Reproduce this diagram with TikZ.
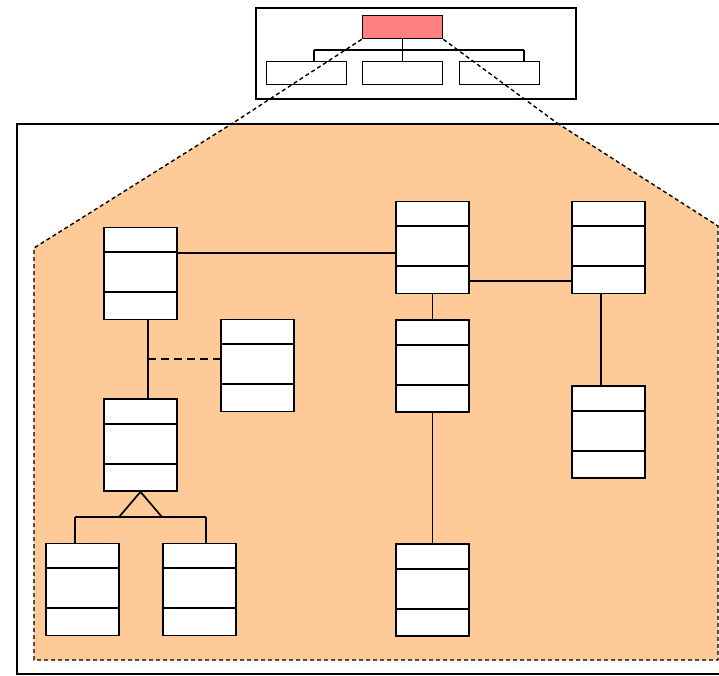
\documentclass[tikz,border=0pt]{standalone}
\usetikzlibrary{calc}
\definecolor{pkgfill}{RGB}{254,203,152}
\definecolor{rootfill}{RGB}{255,128,128}
\tikzset{
  cls/.style={draw, fill=white, line width=1.7pt, minimum width=73pt, minimum height=92pt, inner sep=0pt},
  tbox/.style={draw, line width=1.7pt, minimum width=80pt, minimum height=23pt, inner sep=0pt},
  link/.style={line width=1.7pt},
  zoomline/.style={line width=1.4pt, dash pattern=on 4pt off 3pt},
}
% two compartment dividers inside a class box
\newcommand\classdivs[1]{%
  \draw[link] ($(#1.north west)+(0,25.5)$) -- ($(#1.north east)+(0,25.5)$);
  \draw[link] ($(#1.north west)+(0,65.5)$) -- ($(#1.north east)+(0,65.5)$);
}
\begin{document}
\begin{tikzpicture}[x=1pt,y=-1pt]
\useasboundingbox (0,0) rectangle (719,675);

% package area
\fill[pkgfill] (233,123) -- (557,123) -- (718,226) -- (718,660) -- (34,660) -- (34,248) -- cycle;
\draw[zoomline] (557,123) -- (718,226) -- (718,660) -- (34,660) -- (34,248) -- (233,123);
\node[draw, line width=1.6pt, minimum width=730pt, minimum height=550pt, inner sep=0pt, anchor=north west] (frame) at (16,123) {};

% overview tree
\node[draw, line width=1.7pt, minimum width=320pt, minimum height=91pt, inner sep=0pt] (over) at (416,53.5) {};
\node[tbox, fill=rootfill] (root) at (402.5,27) {};
\node[tbox, fill=white] (kl) at (306.5,73) {};
\node[tbox, fill=white] (km) at (402.5,73) {};
\node[tbox, fill=white] (kr) at (499.5,73) {};
\coordinate (busL) at (314,50);
\coordinate (busR) at (524,50);
\draw[link] (root.south) -- (km.north);
\draw[link] (busL) -- (busR);
\draw[link] (busL) -- (busL |- kl.north);
\draw[link] (busR) -- (busR |- kr.north);

% zoom guides
\coordinate (pkgL) at (233,123);
\coordinate (pkgR) at (557,123);
\draw[zoomline] (root.south west) -- (pkgL);
\draw[zoomline] (root.south east) -- (pkgR);

% classes
\node[cls] (A) at (140.5,273.5) {};
\node[cls] (B) at (257.5,365.5) {};
\node[cls] (C) at (140.5,445) {};
\node[cls] (D) at (432.5,247.5) {};
\node[cls] (E) at (608.5,247.5) {};
\node[cls] (F) at (432.5,366) {};
\node[cls] (G) at (608.5,432) {};
\node[cls] (H) at (432.5,590) {};
\node[cls] (I) at (82.5,589.5) {};
\node[cls] (J) at (199.5,589.5) {};
\foreach \n in {A,B,C,D,E,F,G,H,I,J} {\classdivs{\n}}

% associations
\coordinate (ad) at (300,253);
\draw[link] (A.east |- ad) -- (D.west |- ad);
\coordinate (de) at (520,281);
\draw[link] (D.east |- de) -- (E.west |- de);
\coordinate (eg) at (601,300);
\draw[link] (E.south -| eg) -- (G.north -| eg);
\draw[link] (D.south) -- (F.north);
\draw[link] (F.south) -- (H.north);
\coordinate (ac) at (148,350);
\draw[line width=2.8pt] (A.south -| ac) -- (C.north -| ac);
\coordinate (ab) at (148,359);
\draw[link, dash pattern=on 8pt off 5pt] (ab) -- (B.west |- ab);

% generalization
\coordinate (tl) at (119,517);
\coordinate (tr) at (162,517);
\coordinate (gL) at (75,517);
\coordinate (gR) at (206,517);
\draw[link] (tl) -- (C.south) -- (tr);
\draw[link] (gL) -- (gR);
\draw[link] (gL) -- (gL |- I.north);
\draw[link] (gR) -- (gR |- J.north);
\end{tikzpicture}
\end{document}
